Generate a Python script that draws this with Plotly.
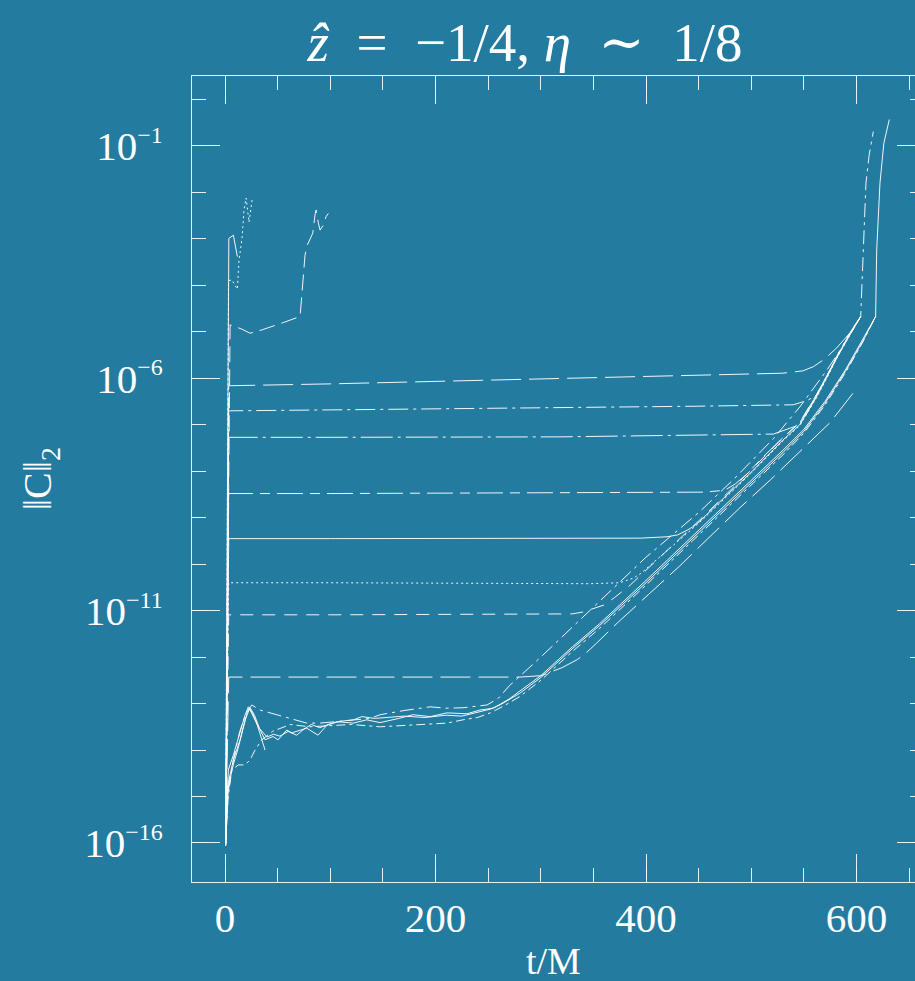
import plotly.graph_objects as go

# ---------------- data (t/M, log10 ||C||_2) ----------------
# early blow-up runs
a0_t = [0.5, 3.6, 7.9, 11.7]
a0_v = [-16.05, -2.99, -2.92, -3.38]

d0_t = [0.5, 3.3, 6.4, 11.7, 13.3, 16.2, 18.0, 20.0, 22.8, 25.7]
d0_v = [-16.05, -3.9, -3.88, -4.08, -3.45, -2.98, -2.38, -2.12, -2.64, -2.16]

e0_t = [0.5, 4.8, 15.8, 23.8, 34.8, 44.3, 55.4, 71.3, 72.2, 73.8, 76.0, 78.2, 83.3, 85.5, 86.5, 88.7, 90.3, 93.4, 96.0, 98.2]
e0_v = [-16.05, -4.85, -4.94, -5.03, -4.96, -4.89, -4.80, -4.67, -4.38, -3.88, -3.35, -3.13, -2.88, -2.48, -2.38, -2.66, -2.81, -2.70, -2.52, -2.45]

# plateau runs
p1_t = [0.5, 3.5, 100, 200, 321, 450, 530, 549, 559, 570, 581, 592, 604]
p1_v = [-16.05, -6.16, -6.12, -6.07, -6.0, -5.93, -5.89, -5.84, -5.75, -5.58, -5.35, -5.07, -4.67]

p2_t = [0.5, 3.5, 100, 318, 450, 540, 554, 562, 572, 581, 592, 604]
p2_v = [-16.05, -6.70, -6.68, -6.64, -6.60, -6.57, -6.47, -6.36, -5.93, -5.53, -5.08, -4.67]

p3_t = [0.5, 3.5, 100, 318, 521, 537, 546, 553, 560, 570, 581, 592, 604]
p3_v = [-16.05, -7.27, -7.27, -7.26, -7.20, -7.08, -7.0, -6.75, -6.45, -6.01, -5.57, -5.12, -4.67]

p4_t = [0.5, 3.5, 100, 318, 454, 470, 477, 485, 495, 510, 530, 546, 562, 572, 581, 592, 604]
p4_v = [-16.05, -8.48, -8.48, -8.47, -8.45, -8.42, -8.38, -8.27, -8.08, -7.72, -7.28, -6.96, -6.36, -5.95, -5.55, -5.11, -4.67]

p5_t = [0.5, 3.5, 100, 250, 395, 420, 430, 439, 445, 451, 470, 500, 530, 546, 562, 572, 581, 592, 604]
p5_v = [-16.05, -9.45, -9.45, -9.44, -9.44, -9.41, -9.37, -9.27, -9.19, -9.08, -8.66, -8.02, -7.33, -7.0, -6.40, -5.97, -5.57, -5.13, -4.67]

p6_t = [0.5, 3.5, 100, 250, 347, 375, 388, 395, 405, 420, 451, 500, 530, 546, 562, 572, 581, 592, 604]
p6_v = [-16.05, -10.40, -10.40, -10.41, -10.42, -10.40, -10.30, -10.2, -10.0, -9.72, -9.1, -8.04, -7.35, -7.02, -6.42, -5.99, -5.58, -5.14, -4.67]

p7_t = [0.5, 3.5, 100, 250, 330, 340, 350, 360, 370, 385, 400, 451, 500, 530, 546, 562, 572, 581, 592, 604]
p7_v = [-16.05, -11.09, -11.09, -11.08, -11.07, -11.03, -10.96, -10.88, -10.72, -10.45, -10.13, -9.05, -7.97, -7.28, -6.95, -6.35, -5.94, -5.54, -5.1, -4.67]

p8_t = [0.5, 3.5, 100, 200, 280, 300, 320, 335, 344, 353, 373, 402, 432, 451, 489, 518, 546, 575, 600.5]
p8_v = [-16.05, -12.43, -12.43, -12.43, -12.43, -12.40, -12.23, -12.05, -11.89, -11.70, -11.26, -10.66, -10.04, -9.62, -8.79, -8.19, -7.58, -6.95, -6.21]

# low-level runs
la_t = [0.5, 3.1, 8, 14.3, 19, 22.1, 26, 30.1, 34, 38]
la_v = [-16.05, -14.43, -14.1, -13.6, -13.25, -13.07, -13.2, -13.42, -13.7, -14.0]

lb_t = [0.5, 3.1, 8, 14.3, 19, 23.8, 28, 33, 38, 45.6, 50.4, 58.6, 63.4, 71.3, 77.6, 88.4, 96.6, 106.1, 121.9, 134.6,
        147.3, 165, 178.6, 195, 211, 230, 242, 255, 270, 300, 330, 356, 400, 451, 500, 530, 550, 570, 590, 606, 618.2,
        619.2, 622.3, 626, 631.2]
lb_v = [-16.05, -14.71, -14.2, -13.78, -13.35, -13.09, -13.25, -13.55, -13.78, -13.71, -13.78, -13.57, -13.63, -13.57, -13.53, -13.68, -13.47, -13.39, -13.42, -13.35,
        -13.41, -13.32, -13.24, -13.28, -13.2, -13.22, -13.14, -13.1, -12.9, -12.4, -11.78, -11.28, -10.35, -9.25, -8.2, -7.55, -7.1, -6.5, -5.8, -5.17, -4.67,
        -3.24, -1.80, -0.94, -0.43]

lc_t = [0.5, 3, 8, 14, 20, 25.4, 33.3, 42.8, 58.6, 77.6, 90.3, 106, 122, 137.8, 147.3, 170, 194.8, 210, 226, 249, 260, 270,
        300, 330, 356, 400, 451, 483, 521, 546, 572, 591, 604, 606.5, 609, 612, 616]
lc_v = [-16.05, -14.9, -14.2, -13.6, -13.2, -13.03, -13.14, -13.2, -13.31, -13.42, -13.42, -13.39, -13.35, -13.32, -13.24, -13.15, -13.07, -13.1, -13.09, -13.03, -12.88, -12.62,
        -12.0, -11.35, -10.79, -9.85, -8.87, -8.18, -7.3, -6.62, -5.82, -5.17, -4.67, -3.24, -1.80, -1.2, -0.69]

ld_t = [0.5, 3, 6.4, 12.6, 19, 23.8, 28.5, 34.9, 45, 62, 80, 100, 120, 147, 179, 211, 226, 240, 252, 265, 280,
        300, 330, 356, 400, 451, 500, 530, 550, 570, 590, 606, 618.2]
ld_v = [-16.05, -15.0, -14.43, -14.32, -14.32, -14.21, -14.0, -13.78, -13.6, -13.45, -13.5, -13.48, -13.45, -13.5, -13.46, -13.42, -13.35, -13.3, -13.2, -13.05, -12.85,
        -12.5, -11.88, -11.38, -10.45, -9.35, -8.3, -7.65, -7.18, -6.58, -5.86, -5.22, -4.67]

le_t = [0.5, 3, 8, 12, 17, 21, 23, 27, 32, 40, 46, 52, 60, 68, 75, 82, 90, 98, 110, 122, 130, 142, 155, 170, 190, 210,
        225, 240, 252, 262, 280, 300, 330, 356, 400, 451, 500, 530, 550, 570, 590, 606, 618.2]
le_v = [-15.95, -14.8, -14.3, -14.0, -13.55, -13.2, -13.1, -13.3, -13.52, -13.72, -13.66, -13.7, -13.6, -13.68, -13.55, -13.45, -13.52, -13.45, -13.38, -13.35, -13.28, -13.32, -13.3, -13.27, -13.3, -13.25,
        -13.27, -13.18, -13.12, -13.02, -12.78, -12.44, -11.82, -11.32, -10.4, -9.3, -8.25, -7.6, -7.14, -6.54, -5.83, -5.2, -4.67]

x_tickvals = [0, 200, 400, 600]
y_tick_exps = [-1, -6, -11, -16]
y_minor_exps = list(range(-17, 1))

# ---------------- styling ----------------
BG = "#247ba0"
FG = "rgba(255,255,255,0.93)"
AX = "rgba(240,248,252,0.95)"
SERIF = "Liberation Serif, DejaVu Serif, serif"

curves = [
    (a0_t, a0_v, "solid"),
    (d0_t, d0_v, "2px,3px"),
    (e0_t, e0_v, "16px,7px"),
    (p1_t, p1_v, "30px,8px"),
    (p2_t, p2_v, "20px,5px,3px,5px"),
    (p3_t, p3_v, "32px,5px,3px,5px"),
    (p4_t, p4_v, "26px,7px,10px,7px"),
    (p5_t, p5_v, "solid"),
    (p6_t, p6_v, "2px,3px"),
    (p7_t, p7_v, "13px,9px"),
    (p8_t, p8_v, "30px,8px"),
    (la_t, la_v, "solid"),
    (lb_t, lb_v, "solid"),
    (lc_t, lc_v, "14px,5px,3px,5px"),
    (ld_t, ld_v, "9px,4px,3px,4px"),
    (le_t, le_v, "solid"),
]

fig = go.Figure()
for t, v, dash in curves:
    fig.add_trace(go.Scatter(
        x=t, y=[10 ** e for e in v], mode="lines",
        line=dict(color=FG, width=1.0, dash=dash),
        showlegend=False, hoverinfo="skip"))

# invisible trace to anchor the right-hand tick axis
fig.add_trace(go.Scatter(x=[0], y=[1e-10], yaxis="y2", mode="markers",
                         marker=dict(opacity=0), showlegend=False, hoverinfo="skip"))

yr = [-16.84, 0.506]
ytv = [10 ** e for e in y_tick_exps]
ytt = ["10<sup><span style=\"font-size:24px\">\u2212%d</span></sup>" % (-e) for e in y_tick_exps]
ymv = [10 ** e for e in y_minor_exps]

fig.update_layout(
    width=915, height=981,
    margin=dict(l=192, r=0, t=76, b=99),
    paper_bgcolor=BG, plot_bgcolor=BG,
    font=dict(family=SERIF, color="white"),
    title=dict(text="<i>\u1e91</i>\u2002=\u2002\u22121/4, <i>\u03b7</i>\u2002\u223c\u20021/8",
               x=525 / 915, xref="container", xanchor="center",
               y=1 - 42 / 981, yref="container", yanchor="middle",
               font=dict(family=SERIF, size=55, color="white")),
    xaxis=dict(range=[-31.4, 655.6], showgrid=False, zeroline=False,
               showline=True, linecolor=AX, linewidth=1.2, mirror="ticks",
               ticks="inside", ticklen=28, tickwidth=1.2, tickcolor=AX,
               tickvals=x_tickvals, ticktext=[str(v) for v in x_tickvals],
               tickfont=dict(family=SERIF, size=41, color="white"),
               ticklabelstandoff=0,
               minor=dict(ticks="inside", ticklen=14, tickwidth=1.2, tickcolor=AX,
                          dtick=50, tick0=0, showgrid=False)),
    yaxis=dict(type="log", range=yr, showgrid=False, zeroline=False,
               showline=True, linecolor=AX, linewidth=1.2, mirror=False,
               ticks="inside", ticklen=28, tickwidth=1.2, tickcolor=AX,
               tickvals=ytv, ticktext=ytt,
               tickfont=dict(family=SERIF, size=41, color="white"),
               ticklabelstandoff=20,
               minor=dict(ticks="inside", ticklen=14, tickwidth=1.2, tickcolor=AX,
                          tickvals=ymv, showgrid=False)),
    yaxis2=dict(type="log", range=yr, overlaying="y", side="right", anchor="x",
                showgrid=False, zeroline=False, showline=False,
                showticklabels=False,
                ticks="inside", ticklen=18, tickwidth=1.2, tickcolor=AX,
                tickvals=ytv,
                minor=dict(ticks="inside", ticklen=5, tickwidth=1.2, tickcolor=AX,
                           tickvals=ymv, showgrid=False)),
    annotations=[
        dict(text="t/M", xref="paper", yref="paper", x=0.5, y=-0.098,
             xanchor="center", yanchor="middle", showarrow=False,
             font=dict(family=SERIF, size=38, color="white")),
        dict(text="\u2016C\u2016<sub>2</sub>", xref="paper", yref="paper",
             x=-0.21, y=0.5, textangle=-90, xanchor="center", yanchor="middle",
             showarrow=False, font=dict(family=SERIF, size=40, color="white")),
    ],
)

fig.write_html("out.html", config={"displayModeBar": False},
               post_script="document.body.style.margin='0';document.body.style.overflow='hidden';")
